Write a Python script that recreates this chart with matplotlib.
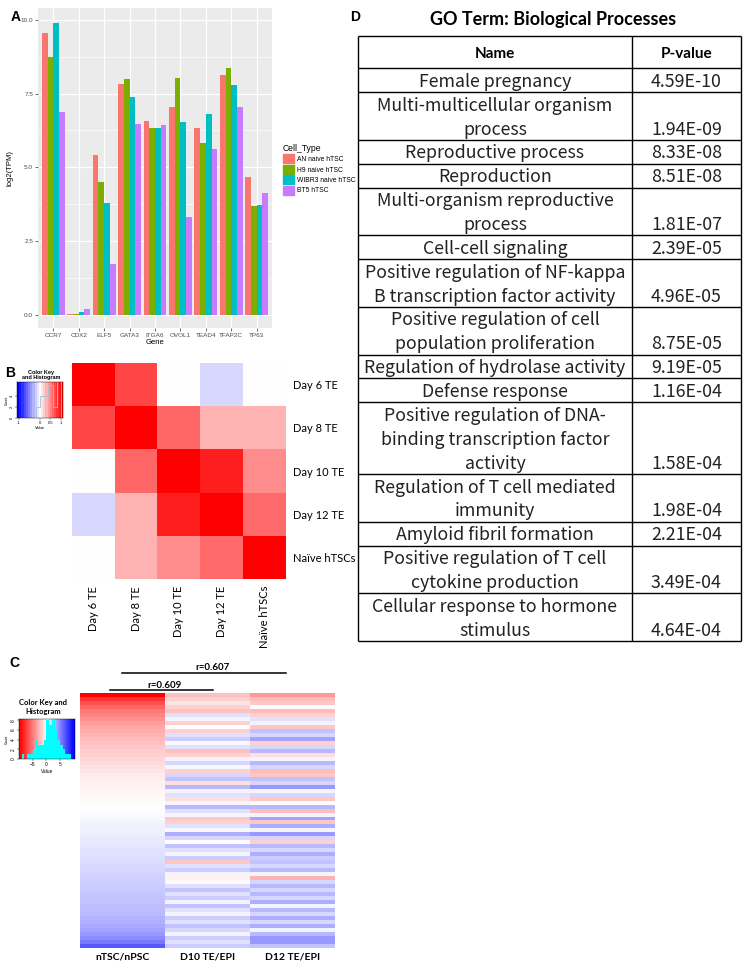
import numpy as np
import matplotlib
matplotlib.use('Agg')
import matplotlib.pyplot as plt
from matplotlib.patches import Patch
from matplotlib.lines import Line2D

W, H = 744, 969

# ---- A: marker gene expression
genes = ['CCR7', 'CDX2', 'ELF5', 'GATA3', 'ITGA6', 'OVOL1', 'TEAD4', 'TFAP2C', 'TP63']
cell_types = ['AN naive hTSC', 'H9 naive hTSC', 'WIBR3 naive hTSC', 'BT5 hTSC']
an_naive = [9.56, 0.01, 5.41, 7.82, 6.57, 7.06, 6.33, 8.13, 4.66]
h9_naive = [8.75, 0.01, 4.49, 7.99, 6.33, 8.02, 5.81, 8.36, 3.70]
wibr3_naive = [9.90, 0.08, 3.80, 7.37, 6.33, 6.53, 6.80, 7.79, 3.73]
bt5 = [6.87, 0.19, 1.73, 6.48, 6.42, 3.33, 5.61, 7.06, 4.12]
bar_colors = ['#F8766D', '#7CAE00', '#00BFC4', '#C77CFF']

# ---- B: correlation between TE samples
te_samples = ['Day 6 TE', 'Day 8 TE', 'Day 10 TE', 'Day 12 TE', 'Naïve hTSCs']
te_corr = [[1.00, 0.72, 0.00, -0.15, 0.00],
           [0.72, 1.00, 0.60, 0.30, 0.30],
           [0.00, 0.60, 1.00, 0.88, 0.45],
           [-0.15, 0.30, 0.88, 1.00, 0.58],
           [0.00, 0.30, 0.45, 0.58, 1.00]]

# ---- C: fold change heatmap
c_labels = ['nTSC/nPSC', 'D10 TE/EPI', 'D12 TE/EPI']
ntsc_npsc = [-10.0, -8.0, -6.8, -6.0, -5.3, -4.8, -4.3, -3.9, -3.5, -3.2,
             -2.9, -2.6, -2.4, -2.2, -2.0, -1.8, -1.6, -1.4, -1.2, -1.0,
             -0.8, -0.7, -0.6, -0.5, -0.4, -0.3, -0.2, -0.1, 0.0, 0.1,
             0.2, 0.3, 0.4, 0.5, 0.6, 0.7, 0.8, 0.9, 1.0, 1.1,
             1.2, 1.3, 1.4, 1.5, 1.6, 1.7, 1.8, 1.9, 2.0, 2.1,
             2.2, 2.3, 2.4, 2.5, 2.6, 2.7, 2.9, 3.1, 3.3, 3.6,
             4.0, 4.5, 5.3, 6.5]
d10_te_epi = [-2.5, -1.8, -1.0, -1.8, -2.5, 1.2, 0.4, -1.8, 0.0, -1.8,
              1.2, 2.0, 0.3, 1.2, -2.5, -1.8, 0.4, 1.6, 0.3, -1.8,
              1.6, 2.4, -1.3, 2.8, 0.4, 1.2, -1.3, 0.4, 2.8, 1.2,
              0.4, -2.2, -1.8, 1.2, 0.3, 3.2, 1.6, 0.0, 2.4, 1.2,
              0.4, 2.0, -2.2, 1.2, 2.0, 0.4, -0.5, -0.3, 1.2, 2.4,
              1.2, 2.0, 0.4, 2.4, 1.2, 0.4, 2.0, 1.2, 2.4, 1.6,
              0.4, 2.0, 1.2, 2.0]
d12_te_epi = [-4.0, -2.6, -2.2, 0.0, -2.6, -1.8, 1.2, 0.4, -2.2, 2.4,
              1.6, 3.6, -1.8, 1.6, 2.8, -1.3, 0.4, 2.8, 1.6, -2.6,
              -2.2, 2.4, 1.6, 4.0, 0.4, 1.6, -2.2, 0.0, 2.8, -2.6,
              0.4, 3.6, -2.2, 3.2, 0.4, 4.0, 1.6, -1.8, 2.8, 1.6,
              3.2, 2.0, 2.4, 1.6, 2.8, 0.4, -3.0, 1.6, 2.8, 1.6,
              2.8, 1.6, 3.2, 0.4, 2.8, 1.6, 3.2, 1.6, 3.2, 0.4,
              2.8, 4.0, 4.0, 2.4]
c_hist_edges = list(range(-10, 11))
c_hist_counts = [0, 1, 0, 1, 1, 2, 4, 3, 3, 4, 8, 7, 8, 6, 4, 3, 2, 1, 1, 0]

# ---- D: GO terms
go_terms = ['Female pregnancy',
            'Multi-multicellular organism\nprocess',
            'Reproductive process',
            'Reproduction',
            'Multi-organism reproductive\nprocess',
            'Cell-cell signaling',
            'Positive regulation of NF-kappa\nB transcription factor activity',
            'Positive regulation of cell\npopulation proliferation',
            'Regulation of hydrolase activity',
            'Defense response',
            'Positive regulation of DNA-\nbinding transcription factor\nactivity',
            'Regulation of T cell mediated\nimmunity',
            'Amyloid fibril formation',
            'Positive regulation of T cell\ncytokine production',
            'Cellular response to hormone\nstimulus']
go_pvalues = ['4.59E-10', '1.94E-09', '8.33E-08', '8.51E-08', '1.81E-07',
              '2.39E-05', '4.96E-05', '8.75E-05', '9.19E-05', '1.16E-04',
              '1.58E-04', '1.98E-04', '2.21E-04', '3.49E-04', '4.64E-04']

plt.rcParams['font.family'] = ['Liberation Sans', 'DejaVu Sans']
fig = plt.figure(figsize=(W / 100, H / 100), dpi=100)


def px_axes(x0, y0, x1, y1):
    # axes placed by pixel box of the 744x969 canvas
    return fig.add_axes([x0 / W, 1 - y1 / H, (x1 - x0) / W, (y1 - y0) / H])


def fx(x):
    return x / W


def fy(y):
    return 1 - y / H


# ================= A =================
axA = px_axes(38, 8, 272, 328)
axA.set_facecolor('#EBEBEB')
xpos = np.arange(len(genes))
series = [an_naive, h9_naive, wibr3_naive, bt5]
for j, (vals, col) in enumerate(zip(series, bar_colors)):
    axA.bar(xpos + (j - 1.5) * 0.225, vals, width=0.225, color=col, zorder=3)
axA.set_xlim(-0.6, 8.6)
axA.set_ylim(-0.45, 10.4)
axA.set_yticks([0, 2.5, 5, 7.5, 10])
axA.set_yticklabels(['0.0', '2.5', '5.0', '7.5', '10.0'])
axA.set_yticks([1.25, 3.75, 6.25, 8.75], minor=True)
axA.set_xticks(xpos)
axA.set_xticklabels(genes)
axA.grid(which='major', color='white', lw=0.9, zorder=0)
axA.grid(which='minor', axis='y', color='white', lw=0.45, zorder=0)
axA.set_axisbelow(True)
for s in axA.spines.values():
    s.set_visible(False)
axA.tick_params(which='major', length=2, width=0.5, color='#333333',
                labelsize=4.6, labelcolor='#4D4D4D', pad=1.5)
axA.tick_params(which='minor', length=0)
axA.set_xlabel('Gene', fontsize=5.5, labelpad=1)
axA.set_ylabel('log2(TPM)', fontsize=5.5, labelpad=5)
handles = [Patch(color=c) for c in bar_colors]
leg = axA.legend(handles, cell_types, title='Cell_Type', loc='upper left',
                 bbox_to_anchor=(fx(278), fy(139)), bbox_transform=fig.transFigure,
                 frameon=False, fontsize=4.9, title_fontsize=6.2,
                 handlelength=1.6, handleheight=1.6, labelspacing=0.25,
                 handletextpad=0.5, alignment='left', borderpad=0.2)

# ================= B =================
axB = px_axes(72, 363, 286, 579)
axB.imshow(np.array(te_corr), cmap='bwr', vmin=-1, vmax=1, aspect='auto',
           interpolation='nearest')
axB.set_xticks(range(len(te_samples)))
axB.set_xticklabels(te_samples, rotation=90, fontsize=8, family='Lato')
axB.set_yticks(range(len(te_samples)))
axB.set_yticklabels(te_samples, fontsize=8, family='Lato')
axB.yaxis.tick_right()
axB.tick_params(length=0, pad=5)
for s in axB.spines.values():
    s.set_visible(False)

axBk = px_axes(17, 382, 63, 418)
axBk.imshow(np.linspace(-1, 1, 21)[None, :], cmap='bwr', vmin=-1, vmax=1,
            aspect='auto', extent=(-1.1, 1.1, 0, 6.5), interpolation='nearest')
cnt_b, edg_b = np.histogram(np.array(te_corr).ravel(), bins=np.linspace(-1, 1, 11))
axBk.stairs(cnt_b, edg_b, color='#9fc6d2', lw=0.6)
axBk.set_xlim(-1.1, 1.1)
axBk.set_ylim(0, 6.5)
axBk.set_xticks([-1, 0, 0.5, 1])
axBk.set_xticklabels(['-1', '0', '0.5', '1'])
axBk.set_yticks([0, 2, 4])
axBk.tick_params(labelsize=3, length=1.2, width=0.3, pad=1)
for lab in axBk.get_yticklabels():
    lab.set_rotation(90)
    lab.set_va('center')
axBk.set_xlabel('Value', fontsize=3, labelpad=1)
axBk.set_ylabel('Count', fontsize=2.5, labelpad=1)
for s in axBk.spines.values():
    s.set_linewidth(0.3)
fig.text(fx(41), fy(375), 'Color Key\nand Histogram', ha='center', va='center',
         fontsize=4, fontweight='bold', linespacing=1.0)

# ================= C =================
axC = px_axes(80, 693, 335, 948)
c_mat = np.column_stack([ntsc_npsc, d10_te_epi, d12_te_epi])
axC.imshow(c_mat, cmap='bwr_r', vmin=-10, vmax=10, aspect='auto',
           interpolation='nearest')
axC.set_xticks(range(len(c_labels)))
axC.set_xticklabels(c_labels, fontsize=7.5, fontweight='bold', family='Lato')
axC.set_yticks([])
axC.tick_params(length=0, pad=3)
for s in axC.spines.values():
    s.set_visible(False)

axCk = px_axes(19, 719, 75, 759)
axCk.imshow(np.linspace(-10, 10, 41)[None, :], cmap='bwr_r', vmin=-10, vmax=10,
            aspect='auto', extent=(-10, 10.5, 0, 8.3), interpolation='bilinear')
axCk.stairs(c_hist_counts, c_hist_edges, fill=True, color='#00FFFF')
axCk.set_xlim(-10, 10.5)
axCk.set_ylim(0, 8.3)
axCk.set_xticks([-5, 0, 5])
axCk.set_yticks([0, 2, 4, 6, 8])
axCk.tick_params(labelsize=3.5, length=1.5, width=0.3, pad=1)
for lab in axCk.get_yticklabels():
    lab.set_rotation(90)
    lab.set_va('center')
axCk.set_xlabel('Value', fontsize=3.5, labelpad=1)
axCk.set_ylabel('Count', fontsize=2.5, labelpad=1)
for s in axCk.spines.values():
    s.set_linewidth(0.3)
fig.text(fx(43), fy(707), 'Color Key and\nHistogram', ha='center', va='center',
         fontsize=5.5, fontweight='bold', family='Lato', linespacing=1.3)

# correlation brackets
fig.add_artist(Line2D([fx(122), fx(286)], [fy(673), fy(673)], color='black', lw=1.1))
fig.text(fx(212), fy(668), 'r=0.607', ha='center', va='center',
         fontsize=7, fontweight='bold', family='Lato')
fig.add_artist(Line2D([fx(110), fx(213)], [fy(690), fy(690)], color='black', lw=1.1))
fig.text(fx(164), fy(686), 'r=0.609', ha='center', va='center',
         fontsize=7, fontweight='bold', family='Lato')

# ================= D =================
axD = px_axes(358, 36, 741, 641)
head_h = 1.35
n_lines = [t.count('\n') + 1 for t in go_terms]
total = head_h + sum(n_lines)
axD.set_xlim(0, 1)
axD.set_ylim(total, 0)
axD.axis('off')
div = 0.715
bounds = [0, head_h] + list(head_h + np.cumsum(n_lines))
axD.hlines(bounds, 0, 1, color='black', lw=1.0, clip_on=False)
axD.vlines([0, div, 1], 0, total, color='black', lw=1.0, clip_on=False)
axD.text(div / 2, head_h * 0.68, 'Name', ha='center', va='baseline',
         fontsize=11, fontweight='bold', family='Lato')
axD.text((div + 1) / 2, head_h * 0.68, 'P-value', ha='center', va='baseline',
         fontsize=11, fontweight='bold', family='Lato')
body_font = ['Noto Sans CJK SC', 'DejaVu Sans']
for i, (term, pv) in enumerate(zip(go_terms, go_pvalues)):
    top = bounds[i + 1]
    lines = term.split('\n')
    for k, line in enumerate(lines):
        axD.text(div / 2, top + k + 0.78, line, ha='center', va='baseline',
                 fontsize=12.8, family=body_font, fontweight='light',
                 color='#222222')
    axD.text((div + 1) / 2, top + len(lines) - 1 + 0.78, pv, ha='center',
             va='baseline', fontsize=12.8, family=body_font,
             fontweight='light', color='#222222')

fig.text(fx(553), fy(20), 'GO Term: Biological Processes', ha='center',
         va='center', fontsize=13, fontweight='bold', family='Lato')

# panel letters
for lab, xx, yy in [('A', 16, 17), ('B', 10, 373), ('C', 14, 663), ('D', 355, 17)]:
    fig.text(fx(xx), fy(yy), lab, ha='center', va='center', fontsize=10,
             fontweight='bold')

fig.savefig('out.png', dpi=100)
